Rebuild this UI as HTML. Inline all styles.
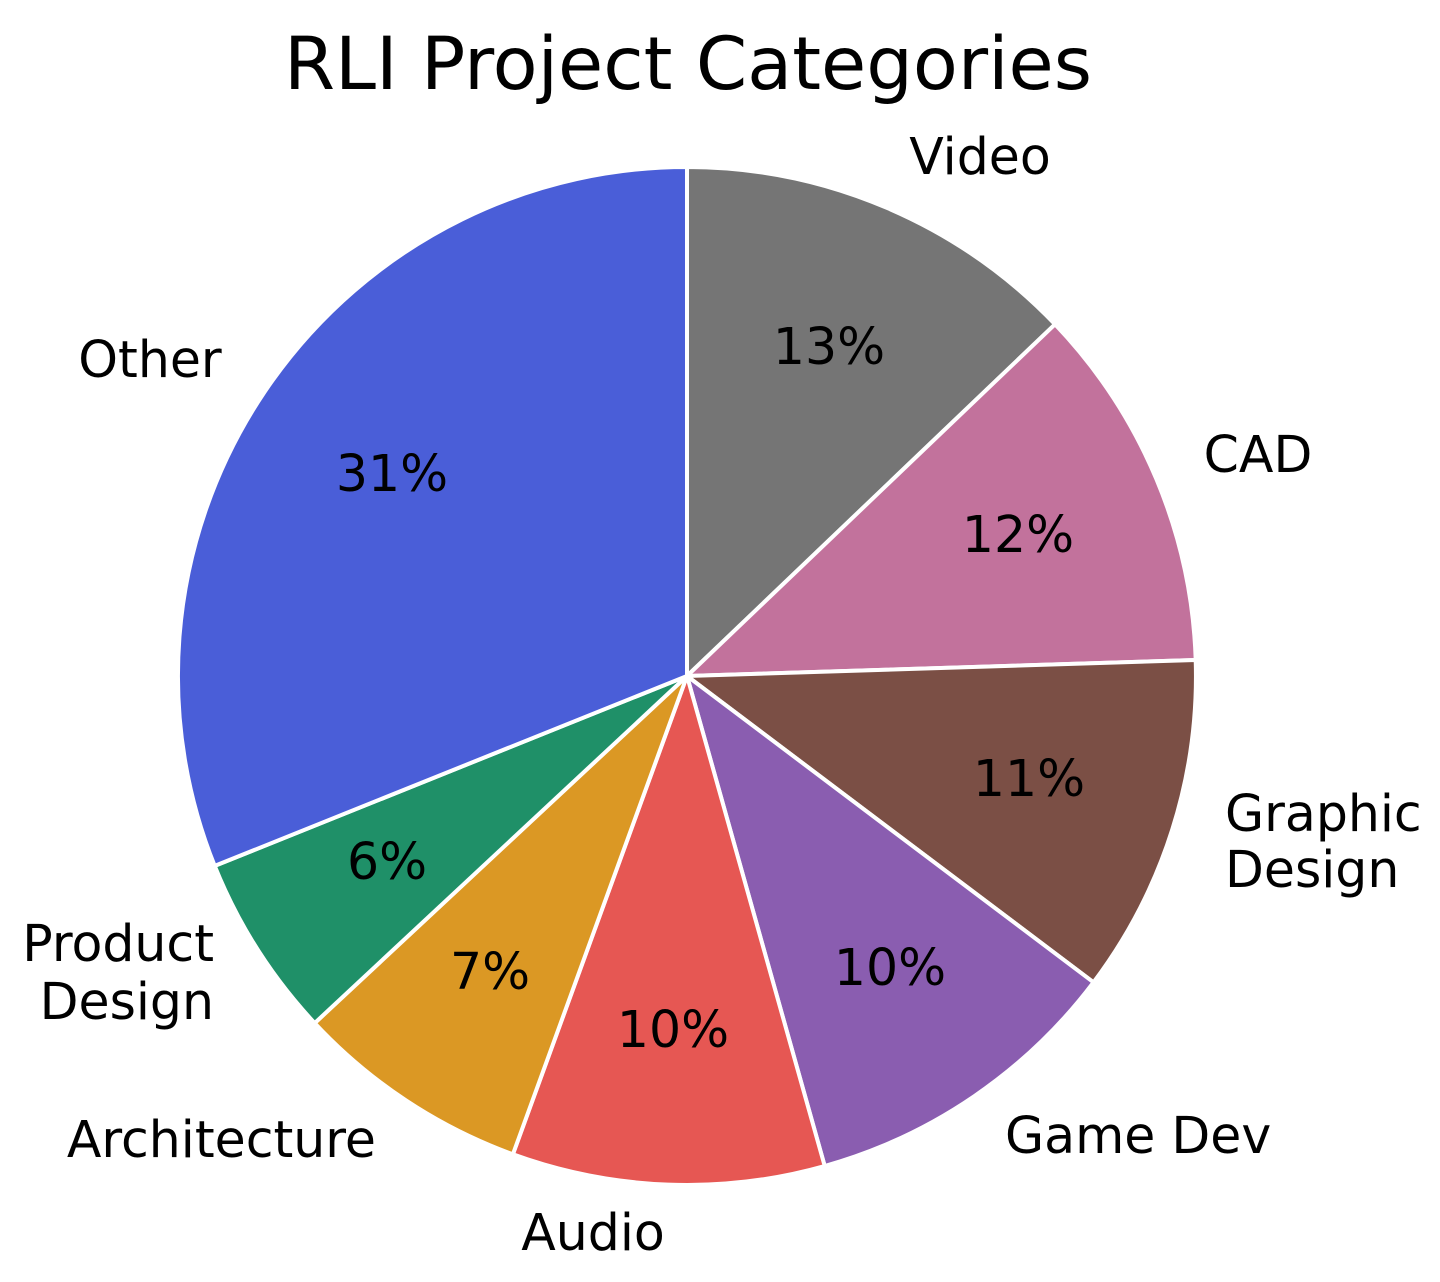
<!DOCTYPE html>
<html><head><meta charset="utf-8"><style>
html,body{margin:0;padding:0;background:#fff}
svg{display:block}
text{font-family:"DejaVu Sans","Liberation Sans",sans-serif;fill:#000}
</style></head><body>
<svg id="s" width="1440" height="1282" viewBox="0 0 1440 1282" xmlns="http://www.w3.org/2000/svg">
<g id="pie"></g>
<text x="688" y="89" font-size="73.5" text-anchor="middle">RLI Project Categories</text>
<g font-size="50.5">
<text x="980" y="174" text-anchor="middle">Video</text>
<text x="150" y="377" text-anchor="middle">Other</text>
<text x="1258" y="472" text-anchor="middle">CAD</text>
<text x="1225" y="831">Graphic</text>
<text x="1225" y="887">Design</text>
<text x="1005" y="1153">Game Dev</text>
<text x="593" y="1250" text-anchor="middle">Audio</text>
<text x="376" y="1157" text-anchor="end">Architecture</text>
<text x="214" y="961" text-anchor="end">Product</text>
<text x="214" y="1019" text-anchor="end">Design</text>
</g>
<g font-size="50.5">
<text x="829" y="364" text-anchor="middle">13%</text>
<text x="1018" y="552" text-anchor="middle">12%</text>
<text x="1029" y="796" text-anchor="middle">11%</text>
<text x="890" y="985" text-anchor="middle">10%</text>
<text x="673" y="1047" text-anchor="middle">10%</text>
<text x="490" y="989" text-anchor="middle">7%</text>
<text x="387" y="879" text-anchor="middle">6%</text>
<text x="392" y="491" text-anchor="middle">31%</text>
</g>
</svg>
<script>
(function(){
var cx=687,cy=676,r=509;
var b=[0,46.3,88.2,127,164.3,200,227,248.1,360];
var c=["#757575","#c2729c","#7b4f45","#8a5db0","#e65753","#db9824","#1f9068","#4a5ed8"];
function pt(a){a=a*Math.PI/180;return [cx+r*Math.sin(a),cy-r*Math.cos(a)];}
var g=document.getElementById("pie"),h="";
for(var i=0;i<8;i++){
var p1=pt(b[i]),p2=pt(b[i+1]),large=(b[i+1]-b[i])>180?1:0;
h+='<path d="M'+cx+','+cy+' L'+p1[0].toFixed(1)+','+p1[1].toFixed(1)+' A'+r+','+r+' 0 '+large+' 1 '+p2[0].toFixed(1)+','+p2[1].toFixed(1)+' Z" fill="'+c[i]+'" stroke="#fff" stroke-width="4" stroke-linejoin="round"/>';
}
g.innerHTML=h;
})();
</script>
</body></html>
